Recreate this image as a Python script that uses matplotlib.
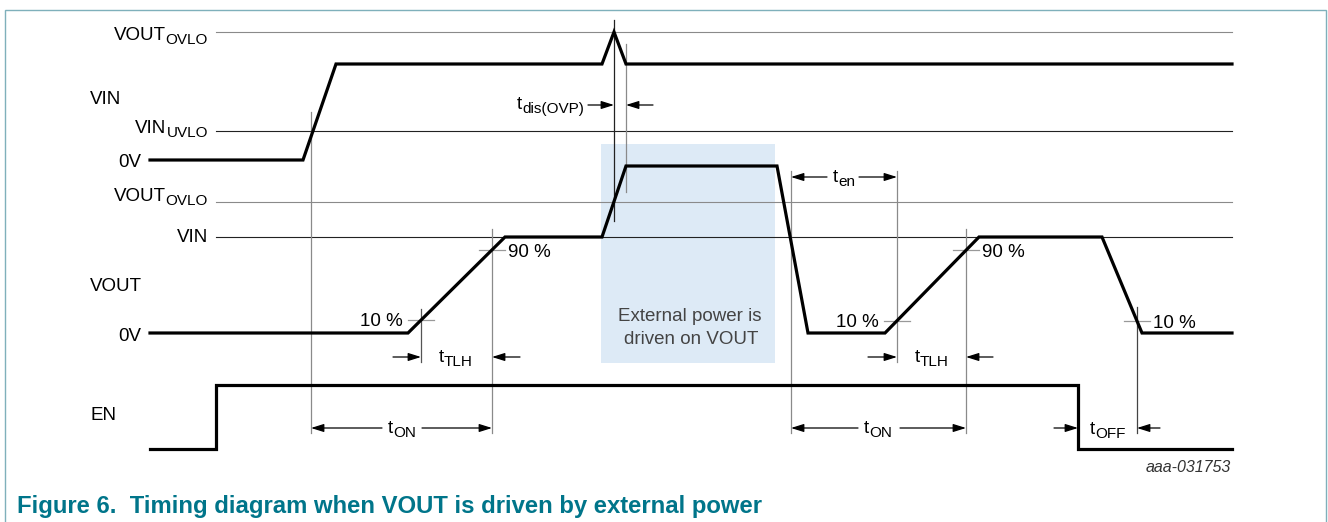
import matplotlib
matplotlib.use("Agg")
import matplotlib.pyplot as plt
import numpy as np

plt.rcParams['font.family'] = ['Liberation Sans', 'DejaVu Sans']

# ---- signal waveforms (time in drawing units, level in drawing rows) ----
vin_t = [150, 303, 336, 602, 614, 626, 1232]
vin_v = [160, 160, 64, 64, 32, 64, 64]

vout_t = [150, 408, 505, 602, 626, 777, 808, 885, 979, 1102, 1142, 1232]
vout_v = [333, 333, 237, 237, 166, 166, 333, 333, 237, 237, 333, 333]

en_t = [150, 216, 216, 1078, 1078, 1232]
en_v = [449, 449, 385, 385, 449, 449]

# ---- threshold reference lines ----
ref_levels = [32, 131, 202, 237]
ref_colors = ['#8a8a8a', '#222222', '#8a8a8a', '#222222']
ref_start, ref_end = 216, 1232

# ---- timing marker verticals: (time, top, bottom, colour) ----
vmark_t = [311, 614, 626, 421, 492, 791, 897, 966, 1137]
vmark_top = [112, 20, 44, 309, 229, 171, 171, 229, 307]
vmark_bot = [433, 221, 192, 362, 433, 433, 362, 433, 433]
vmark_col = ['#8a8a8a', '#222222', '#8a8a8a', '#555555', '#8a8a8a',
             '#8a8a8a', '#8a8a8a', '#8a8a8a', '#444444']

# ---- 10 % / 90 % crossing points on VOUT ----
cross_t = [421, 492, 897, 966, 1137]
cross_lbl = ['10 %', '90 %', '10 %', '90 %', '10 %']
cross_side = ['left', 'right', 'left', 'right', 'right']

fig = plt.figure(figsize=(13.28, 5.22), dpi=100)
ax = fig.add_axes([0, 0, 1, 1])
ax.set_xlim(0, 1328)
ax.set_ylim(522, 0)
ax.axis('off')
renderer = fig.canvas.get_renderer()

FS = 13.5
SFS = 11

# frame
frame_col = '#7fb0bb'
ax.plot([5, 5, 1326, 1326], [522, 10, 10, 522], color=frame_col, lw=1.0,
        solid_joinstyle='miter')

# shaded external power region
ax.add_patch(plt.Rectangle((601, 144), 174, 219, facecolor='#ddeaf6',
                           edgecolor='none', zorder=0))
ax.text(690, 321, 'External power is', fontsize=13.5, color='#444444',
        ha='center', va='baseline')
ax.text(691, 344, 'driven on VOUT', fontsize=13.5, color='#444444',
        ha='center', va='baseline')

# reference lines
for lv, c in zip(ref_levels, ref_colors):
    ax.plot([ref_start, ref_end], [lv, lv], color=c, lw=0.8, zorder=1)

# vertical markers
for t, a, b, c in zip(vmark_t, vmark_top, vmark_bot, vmark_col):
    ax.plot([t, t], [a, b], color=c, lw=0.9, zorder=1)

# signals
for xs, ys in [(vin_t, vin_v), (vout_t, vout_v), (en_t, en_v)]:
    ax.plot(xs, ys, color='black', lw=2.3, zorder=3, solid_joinstyle='miter')


def level_at(t, ts, vs):
    # VOUT level on the sloped segment that contains time t
    for i in range(len(ts) - 1):
        if ts[i] < t < ts[i + 1] and vs[i] != vs[i + 1]:
            f = (t - ts[i]) / (ts[i + 1] - ts[i])
            return vs[i] + f * (vs[i + 1] - vs[i])
    return float(np.interp(t, ts, vs))


# crosshairs and percent labels
for t, lbl, side in zip(cross_t, cross_lbl, cross_side):
    yy = level_at(t, vout_t, vout_v)
    ax.plot([t - 13, t + 13], [yy, yy], color='#999999', lw=0.9, zorder=2)
    if side == 'left':
        ax.text(t - 18, yy + 6, lbl, fontsize=FS, ha='right', va='baseline')
    else:
        ax.text(t + 16, yy + 7, lbl, fontsize=FS, ha='left', va='baseline')


def sub_text(x, yb, main, sub, ha='left', size=FS, subsize=SFS, dy=4,
             color='black'):
    t1 = ax.text(0, yb, main, fontsize=size, va='baseline', ha='left',
                 color=color)
    t2 = ax.text(0, yb + dy, sub, fontsize=subsize, va='baseline', ha='left',
                 color=color)
    w1 = t1.get_window_extent(renderer).width
    w2 = t2.get_window_extent(renderer).width
    if ha == 'right':
        x0 = x - w1 - w2
    elif ha == 'center':
        x0 = x - (w1 + w2) / 2
    else:
        x0 = x
    t1.set_x(x0)
    t2.set_x(x0 + w1)


def arrow(tail, tip, y):
    ax.annotate('', xy=(tip, y), xytext=(tail, y),
                arrowprops=dict(arrowstyle='-|>,head_length=0.7,head_width=0.22',
                                color='black', lw=0.9, shrinkA=0, shrinkB=0,
                                mutation_scale=11), zorder=4)


# left-side labels
sub_text(208, 40, 'VOUT', 'OVLO', ha='right')
ax.text(90, 104, 'VIN', fontsize=FS, va='baseline')
sub_text(208, 133, 'VIN', 'UVLO', ha='right')
ax.text(141, 167, '0V', fontsize=FS, va='baseline', ha='right')
sub_text(208, 201, 'VOUT', 'OVLO', ha='right')
ax.text(208, 242, 'VIN', fontsize=FS, va='baseline', ha='right')
ax.text(90, 291, 'VOUT', fontsize=FS, va='baseline')
ax.text(141, 341, '0V', fontsize=FS, va='baseline', ha='right')
ax.text(90, 420, 'EN', fontsize=FS, va='baseline')

# timing annotations
sub_text(584, 109, 't', 'dis(OVP)', ha='right')
arrow(588, 614, 105)
arrow(653, 626, 105)

sub_text(833, 182, 't', 'en')
arrow(827, 791, 177)
arrow(859, 897, 177)

sub_text(439, 362, 't', 'TLH')
arrow(393, 421, 357)
arrow(520, 492, 357)

sub_text(915, 362, 't', 'TLH')
arrow(868, 897, 357)
arrow(993, 966, 357)

sub_text(388, 433, 't', 'ON')
arrow(382, 311, 428)
arrow(422, 492, 428)

sub_text(864, 433, 't', 'ON')
arrow(858, 791, 428)
arrow(900, 966, 428)

sub_text(1090, 434, 't', 'OFF')
arrow(1054, 1078, 428)
arrow(1160, 1137, 428)

ax.text(1231, 472, 'aaa-031753', fontsize=11.5, style='italic',
        color='#333333', ha='right', va='baseline')

ax.text(17, 513, 'Figure 6.  Timing diagram when VOUT is driven by external power',
        fontsize=17.2, fontweight='bold', color='#00758a', ha='left',
        va='baseline')

fig.savefig('out.png', dpi=100)
